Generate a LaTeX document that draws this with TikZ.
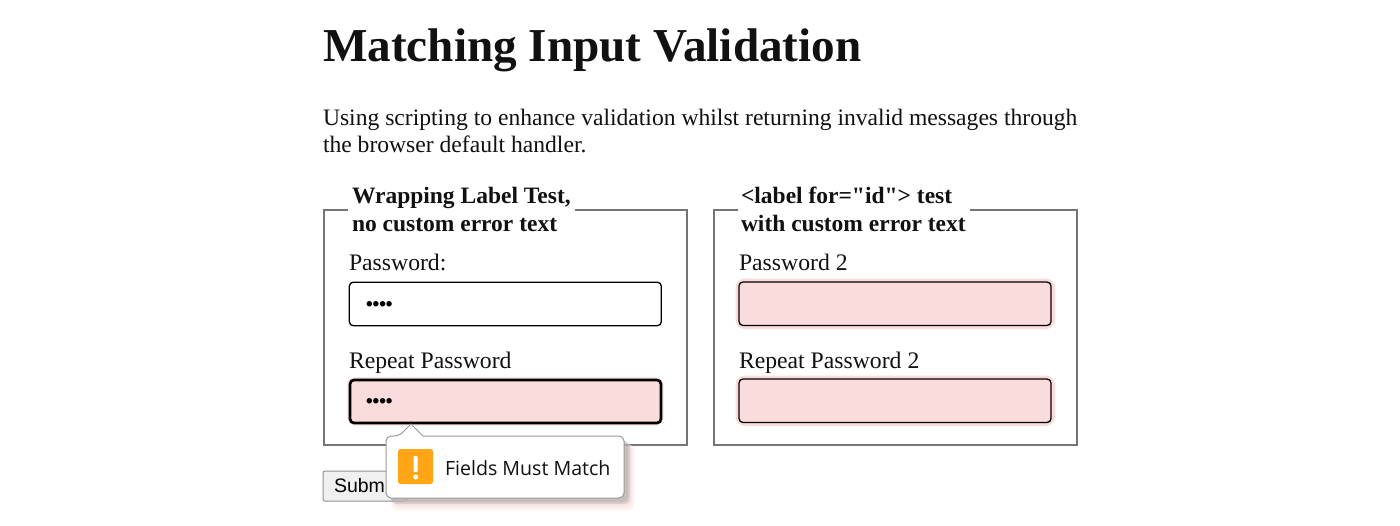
\documentclass[tikz,border=0pt]{standalone}
\usepackage{fontspec}
\setmainfont[Ligatures=TeXOff]{Liberation Serif}
\newfontfamily\uifont{Open Sans}
\newfontfamily\btnfont{Liberation Sans}
\usetikzlibrary{calc}
\definecolor{fsborder}{HTML}{7A7376}
\definecolor{pinkfill}{HTML}{FADCDD}
\definecolor{glow}{HTML}{FBDADB}
\definecolor{warnorange}{HTML}{FFA516}
\definecolor{inkblack}{HTML}{111111}
\tikzset{
  x=1pt,y=-1pt,
  txt/.style={anchor=base west,inner sep=0pt,outer sep=0pt,text=inkblack},
  titletxt/.style={txt,font=\fontsize{47.2}{49}\selectfont\bfseries},
  bodytxt/.style={txt,font=\fontsize{23.6}{27}\selectfont},
  legendtxt/.style={txt,font=\fontsize{23.5}{27}\selectfont\bfseries},
  labeltxt/.style={txt,font=\fontsize{23.7}{27}\selectfont},
  fieldset/.style={draw=fsborder,line width=2pt},
  field/.style={draw=black,line width=1.3pt,rounded corners=4pt,fill=white,outer sep=0pt,inner sep=0pt,anchor=north west,minimum width=312,minimum height=43.5},
  invalid/.style={field,fill=pinkfill},
  glowbox/.style={draw=glow,line width=7pt,rounded corners=6pt},
  dotstxt/.style={txt,font=\btnfont\fontsize{19}{18}\selectfont\bfseries,text=black},
}
\begin{document}
\begin{tikzpicture}
\useasboundingbox (0,0) rectangle (1400,525);
\fill[white] (0,0) rectangle (1400,525);
\node[titletxt] (title) at (323,61) {Matching Input Validation};
\node[bodytxt] (body1) at (323,125.5) {Using scripting to enhance validation whilst returning invalid messages through};
\node[bodytxt] (body2) at (323,152.5) {the browser default handler.};
% left fieldset
\draw[fieldset] (348,209.5) -- (323.5,209.5) -- (323.5,445) -- (687,445) -- (687,209.5) -- (575,209.5);
\node[legendtxt] (leg1a) at (352,203.5) {Wrapping Label Test,};
\node[legendtxt] (leg1b) at (352,231.5) {no custom error text};
\node[labeltxt] (lab1) at (349,270.5) {Password:};
\node[field] (in1) at (349.3,282.2) {};
\node[dotstxt] (dots1) at (366,310) {••••};
\node[labeltxt] (lab2) at (349,368) {Repeat Password};
\draw[glowbox,line width=5pt,draw=glow!70] (349.5,379.5) rectangle (661,423);
\node[invalid,line width=2.7pt,minimum width=311,minimum height=43] (in2) at (350,380) {};
\node[dotstxt] (dots2) at (366,407.5) {••••};
% right fieldset
\draw[fieldset] (738,209.5) -- (713.5,209.5) -- (713.5,445) -- (1077,445) -- (1077,209.5) -- (970,209.5);
\node[legendtxt] (leg2a) at (741,203.5) {<label for="id"> test};
\node[legendtxt] (leg2b) at (741,231.5) {with custom error text};
\node[labeltxt] (lab3) at (739,270.5) {Password 2};
\draw[glowbox] (739,282) rectangle (1051.5,325.5);
\node[invalid] (in3) at (739,282) {};
\node[labeltxt] (lab4) at (739,368) {Repeat Password 2};
\draw[glowbox] (739,379) rectangle (1051.5,422.5);
\node[invalid] (in4) at (739,379) {};
% submit button
\node[draw=gray!85,fill=gray!12,line width=1pt,rounded corners=2pt,minimum width=84,minimum height=30,anchor=north west,inner sep=0pt,outer sep=0pt] (btn) at (323,471) {};
\node[txt,font=\btnfont\fontsize{19.5}{20}\selectfont,text=black] (btntxt) at (334,492) {Submit};
% popup shadow
\fill[pinkfill,opacity=.4,rounded corners=6pt] (392,444) rectangle (634,510);
\fill[pinkfill,opacity=.5,rounded corners=5pt] (394,444) rectangle (632,507);
\fill[gray,opacity=.25,rounded corners=5pt] (391,442) rectangle (630,504);
\fill[gray,opacity=.2,rounded corners=5pt] (390,440) rectangle (628,502);
% popup
\draw[draw=gray!80,line width=1pt,fill=white,rounded corners=5pt]
  (386,436) -- (399,436) [sharp corners] -- (411,424) -- (423,436) [rounded corners=5pt] -- (624,436) -- (624,498) -- (386,498) -- cycle;
\node[fill=warnorange,rounded corners=2.5pt,minimum width=35,minimum height=35,anchor=north west,inner sep=0pt,outer sep=0pt] (icon) at (398,449) {};
\fill[white,rounded corners=1pt] (413.7,456) rectangle (417.7,472);
\fill[white] (415.7,477) circle (2.5);
\node[txt,font=\uifont\fontsize{19.6}{20}\selectfont] (msg) at (445,475.5) {Fields Must Match};
\end{tikzpicture}
\end{document}
